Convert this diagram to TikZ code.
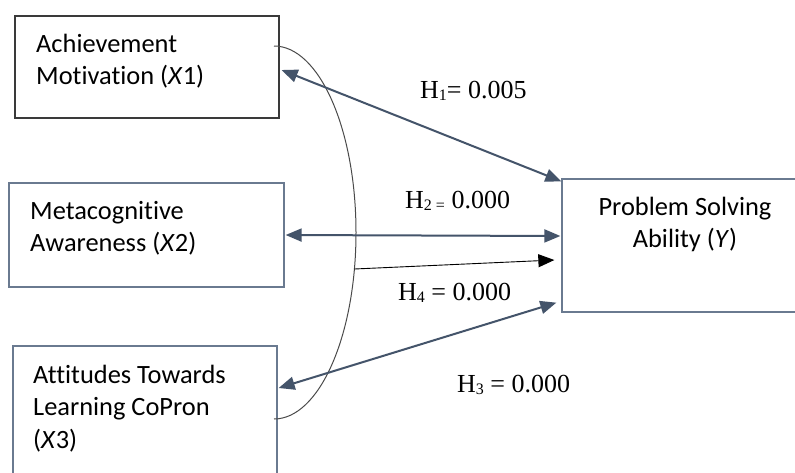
\documentclass[tikz,border=0pt]{standalone}
\usepackage{fontspec}
\setmainfont{Liberation Serif}
\newfontfamily\calfont[Ligatures=NoCommon]{Carlito}
\usetikzlibrary{arrows.meta}
\definecolor{arrowblue}{HTML}{44546A}
\definecolor{boxslate}{HTML}{6A7A90}
\definecolor{boxdark}{HTML}{3A3A3A}
\definecolor{curvegray}{HTML}{4A4A4A}
\newcommand\hsub[1]{\raisebox{-2.5pt}{\fontsize{16}{16}\selectfont #1}}
\tikzset{
  varbox/.style={draw=boxslate, line width=1.3pt, inner sep=0pt, rectangle},
  varboxdark/.style={varbox, draw=boxdark},
  boxtext/.style={font=\calfont\fontsize{26.4}{32}\selectfont, inner sep=0pt, text=black},
  hlabel/.style={font=\fontsize{26}{30}\selectfont, inner sep=0pt, anchor=base west},
  relarrow/.style={draw=arrowblue, line width=2pt, {Triangle[length=16pt,width=13pt]}-{Triangle[length=16pt,width=13pt]}},
  modarrow/.style={draw=black, line width=0.9pt, -{Triangle[length=16pt,width=13pt]}},
  corrcurve/.style={draw=curvegray, line width=1pt}
}
\begin{document}
\begin{tikzpicture}[x=1pt,y=-1pt]
\clip (0,0) rectangle (795,472);
\fill[white] (0,0) rectangle (795,472);

% boxes
\node[varboxdark, minimum width=264pt, minimum height=102pt] (x1) at (147,67) {};
\node[varbox, minimum width=275pt, minimum height=104pt] (x2) at (146.5,235) {};
\node[varbox, minimum width=264pt, minimum height=129pt] (x3) at (145,410.5) {};
\node[varbox, minimum width=248pt, minimum height=133pt] (y) at (686,245.5) {};

% box texts
\node[boxtext, anchor=base west] (t1a) at (36,52.7) {Achievement};
\node[boxtext, anchor=base west] (t1b) at (36,84) {Motivation (\textit{X}1)};
\node[boxtext, anchor=base west] (t2a) at (30,219) {Metacognitive};
\node[boxtext, anchor=base west] (t2b) at (30,251.7) {Awareness (\textit{X}2)};
\node[boxtext, anchor=base west] (t3a) at (33,383) {Attitudes Towards};
\node[boxtext, anchor=base west] (t3b) at (33,415) {Learning CoPron};
\node[boxtext, anchor=base west] (t3c) at (33,448) {(\textit{X}3)};
\node[boxtext, anchor=base] (tya) at (685,215) {Problem Solving};
\node[boxtext, anchor=base] (tyb) at (685,247) {Ability (\textit{Y})};

% correlation curve
\draw[corrcurve] (274,46) arc[start angle=90, end angle=-90, x radius=82pt, y radius=186.5pt];
\coordinate (c4) at (354.4,269);

% arrows
\draw[relarrow] ([xshift=2pt,yshift=-3pt]x1.east) -- ([yshift=-3pt]y.north west);
\draw[relarrow] ([xshift=1pt]x2.east) -- ([xshift=-1pt,yshift=9.5pt]y.west);
\draw[relarrow] ([xshift=1pt,yshift=22.5pt]x3.east) -- ([xshift=-5pt,yshift=10pt]y.south west);
\draw[modarrow] (c4) -- ([xshift=-7pt,yshift=-14.5pt]y.west);

% labels
\node[hlabel] (h1) at (420,98) {H\hsub{1}= 0.005};
\node[hlabel] (h2) at (405,208) {H\hsub{2 =} 0.000};
\node[hlabel] (h4) at (398,300) {H\hsub{4} = 0.000};
\node[hlabel] (h3) at (457,392) {H\hsub{3} = 0.000};
\end{tikzpicture}
\end{document}
